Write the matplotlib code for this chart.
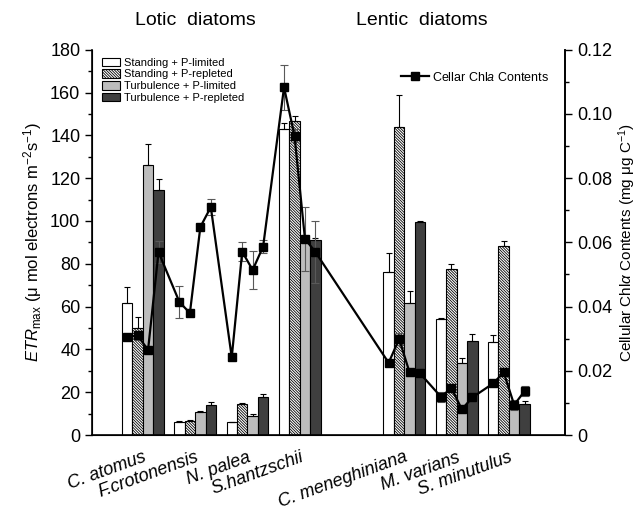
import numpy as np
import matplotlib
matplotlib.use("Agg")
import matplotlib.pyplot as plt
from matplotlib.ticker import MultipleLocator, FuncFormatter

plt.rcParams['font.family'] = ['Liberation Sans', 'DejaVu Sans']
plt.rcParams['mathtext.fontset'] = 'custom'
plt.rcParams['mathtext.rm'] = 'Liberation Sans'
plt.rcParams['mathtext.it'] = 'Liberation Sans:italic'
plt.rcParams['hatch.linewidth'] = 0.6

# -----------------------------
# DATA
# -----------------------------
species = ["C. atomus", "F.crotonensis", "N. palea", "S.hantzschii",
           "C. meneghiniana", "M. varians", "S. minutulus"]
positions = [0, 1, 2, 3, 5, 6, 7]

standing_plim = [61.5, 6.2, 5.9, 143, 76, 54.4, 43.6]
standing_plim_err = [7.5, 0.3, 0.3, 3, 9, 0.5, 3]
standing_prep = [50, 6.5, 14.3, 146.5, 143.7, 77.6, 88.4]
standing_prep_err = [5, 0.3, 0.5, 2.5, 15, 2.2, 2.3]
turb_plim = [126, 10.9, 9.0, 91, 61.6, 33.5, 12.5]
turb_plim_err = [10, 0.3, 0.9, 1, 5.5, 2.3, 0.5]
turb_prep = [114.5, 13.9, 17.9, 91, 99.4, 44.1, 14.3]
turb_prep_err = [5, 1.7, 1.5, 1, 0.8, 3, 1.6]

chl = [0.0305, 0.031, 0.0265, 0.057,
       0.0414, 0.038, 0.0648, 0.071,
       0.0242, 0.0571, 0.0514, 0.0587,
       0.1083, 0.0932, 0.0611, 0.057,
       0.0225, 0.0299, 0.0195, 0.0192,
       0.0119, 0.0146, 0.008, 0.0117,
       0.0161, 0.0195, 0.0094, 0.0137]
chl_err = [0.001, 0.0015, 0.001, 0.0035,
           0.005, 0.001, 0.001, 0.0025,
           0.0, 0.003, 0.006, 0.002,
           0.007, 0.002, 0.01, 0.0097,
           0.0, 0.002, 0.001, 0.0,
           0.0015, 0.001, 0.0, 0.0,
           0.0, 0.0, 0.0015, 0.0015]

series = [
    ("Standing + P-limited", standing_plim, standing_plim_err, "white", None),
    ("Standing + P-repleted", standing_prep, standing_prep_err, "white", "\\" * 12),
    ("Turbulence + P-limited", turb_plim, turb_plim_err, "#bdbdbd", None),
    ("Turbulence + P-repleted", turb_prep, turb_prep_err, "#3f3f3f", None),
]

# -----------------------------
# PLOT
# -----------------------------
fig = plt.figure(figsize=(6.44, 5.13), dpi=100)
ax = fig.add_axes([0.143, 0.152, 0.735, 0.751])

x = np.array(positions, dtype=float)
bar_width = 0.2
bar_x = []
for i, (label, vals, errs, color, hatch) in enumerate(series):
    xs = x + (i - 1.5) * bar_width
    bar_x.append(xs)
    ax.bar(xs, vals, bar_width, color=color, edgecolor="black", linewidth=0.8,
           hatch=hatch, label=label, zorder=2)
    ax.errorbar(xs, vals, yerr=[np.zeros(len(errs)), errs], fmt="none",
                ecolor="black", elinewidth=0.8, capsize=2.5, capthick=0.8, zorder=3)

ax.set_xlim(-0.97, 8.08)
ax.set_ylim(0, 180)
ax.yaxis.set_major_locator(MultipleLocator(20))
ax.yaxis.set_minor_locator(MultipleLocator(10))
ax.tick_params(axis="y", which="both", direction="out", labelsize=13, width=1)
ax.tick_params(axis="y", which="major", length=5)
ax.tick_params(axis="y", which="minor", length=3)
ax.set_xticks(x)
ax.set_xticklabels(species, rotation=20, ha="right", rotation_mode="anchor",
                   fontsize=13, style="italic")
ax.tick_params(axis="x", length=0, pad=10)
ax.spines["top"].set_visible(False)
for s in ["left", "bottom", "right"]:
    ax.spines[s].set_linewidth(1.2)
ax.set_ylabel("$\\mathit{ETR}_{\\rm max}$ (\u03bc mol electrons m$^{-2}$s$^{-1}$)",
              fontsize=12, labelpad=4)

ax.legend(loc="upper left", bbox_to_anchor=(0.005, 1.0), fontsize=8,
          frameon=False, handlelength=1.6, handleheight=0.8,
          labelspacing=0.15, handletextpad=0.4, borderaxespad=0.3)

# Chl a contents on right axis
ax2 = ax.twinx()
chl_x = np.column_stack(bar_x).ravel()
ax2.errorbar(chl_x, chl, yerr=chl_err, fmt="none", ecolor="0.35",
             elinewidth=0.8, capsize=3, capthick=0.8, zorder=4)
ax2.plot(chl_x, chl, color="black", lw=1.6, marker="s", markersize=6,
         label="Cellar Chl$\\mathit{a}$ Contents", zorder=5)
ax2.set_ylim(0, 0.12)
ax2.yaxis.set_major_locator(MultipleLocator(0.02))
ax2.yaxis.set_minor_locator(MultipleLocator(0.01))
ax2.yaxis.set_major_formatter(FuncFormatter(lambda v, p: "0" if abs(v) < 1e-9 else f"{v:.2f}"))
ax2.tick_params(axis="y", which="both", direction="out", labelsize=13, width=1)
ax2.tick_params(axis="y", which="major", length=5)
ax2.tick_params(axis="y", which="minor", length=3)
ax2.spines["top"].set_visible(False)
ax2.spines["right"].set_linewidth(1.2)
ax2.set_ylabel("Cellular Chl$\\mathit{\\alpha}$ Contents (mg \u03bcg C$^{-1}$)",
               fontsize=11, labelpad=3)
ax2.legend(loc="upper right", bbox_to_anchor=(0.99, 0.975), fontsize=9,
           frameon=False, handlelength=2.2, handletextpad=0.3)

fig.text(0.303, 0.96, "Lotic  diatoms", fontsize=14, ha="center", va="center")
fig.text(0.655, 0.96, "Lentic  diatoms", fontsize=14, ha="center", va="center")

plt.savefig("out.png", dpi=100)
plt.close()
